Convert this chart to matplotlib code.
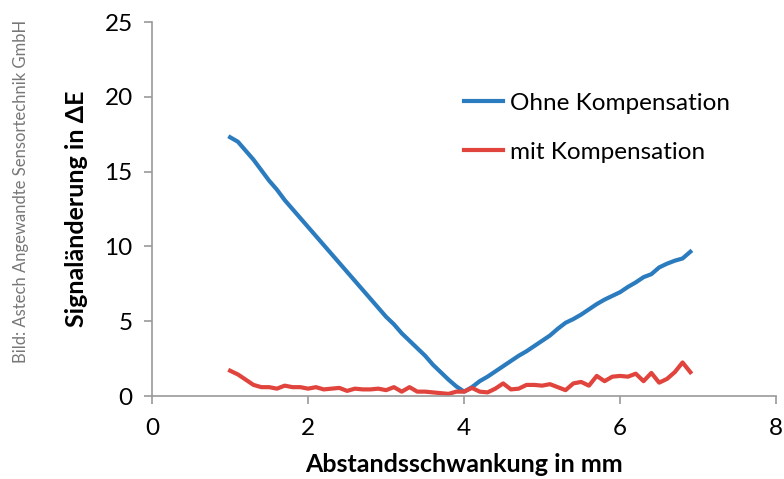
import numpy as np
import matplotlib
matplotlib.use("Agg")
import matplotlib.pyplot as plt

plt.rcParams['font.family'] = ['Lato', 'DejaVu Sans']

# Abstandsschwankung in mm (0.1 mm steps)
distance = np.round(np.arange(1.0, 6.95, 0.1), 1)

ohne_kompensation = [
    17.3, 17.0, 16.4, 15.8, 15.1, 14.4, 13.8, 13.1, 12.5, 11.9,
    11.3, 10.7, 10.1, 9.5, 8.9, 8.3, 7.7, 7.1, 6.5, 5.9,
    5.3, 4.8, 4.2, 3.7, 3.2, 2.7, 2.1, 1.6, 1.1, 0.65,
    0.3, 0.6, 1.0, 1.3, 1.65, 2.0, 2.35, 2.7, 3.0, 3.35,
    3.7, 4.05, 4.5, 4.9, 5.15, 5.45, 5.8, 6.15, 6.45, 6.7,
    6.95, 7.3, 7.6, 7.95, 8.15, 8.6, 8.85, 9.05, 9.2, 9.65,
]
mit_kompensation = [
    1.7, 1.45, 1.1, 0.75, 0.6, 0.6, 0.5, 0.7, 0.6, 0.6,
    0.5, 0.6, 0.45, 0.5, 0.55, 0.35, 0.5, 0.45, 0.45, 0.5,
    0.4, 0.6, 0.3, 0.6, 0.3, 0.3, 0.25, 0.2, 0.15, 0.3,
    0.3, 0.55, 0.3, 0.25, 0.5, 0.85, 0.45, 0.5, 0.75, 0.75,
    0.7, 0.8, 0.6, 0.4, 0.85, 0.95, 0.7, 1.35, 1.0, 1.3,
    1.35, 1.3, 1.5, 1.0, 1.55, 0.9, 1.15, 1.6, 2.25, 1.6,
]

fig = plt.figure(figsize=(7.84, 4.79), dpi=100)
ax = fig.add_axes([0.194, 0.173, 0.796, 0.781])

ax.plot(distance, ohne_kompensation, color='#2b7bbf', lw=3, label='Ohne Kompensation')
ax.plot(distance, mit_kompensation, color='#e0443c', lw=3, label='mit Kompensation')

ax.set_xlim(0, 8)
ax.set_ylim(0, 25)
ax.set_xticks([0, 2, 4, 6, 8])
ax.set_yticks([0, 5, 10, 15, 20, 25])
ax.tick_params(labelsize=17.5, color='#999999', length=6, width=1.2, pad=8)
ax.tick_params(axis='x', pad=10)
for side in ['top', 'right']:
    ax.spines[side].set_visible(False)
for side in ['left', 'bottom']:
    ax.spines[side].set_color('#999999')
    ax.spines[side].set_linewidth(1.2)

ax.set_xlabel('Abstandsschwankung in mm', fontsize=18, fontweight='bold', labelpad=10)
ax.set_ylabel('Signaländerung in ΔE', fontsize=18, fontweight='bold', labelpad=12)

ax.legend(loc='upper left', bbox_to_anchor=(0.465, 0.87), frameon=False,
          fontsize=17.5, handlelength=1.6, handletextpad=0.3, labelspacing=1.15)

fig.text(0.027, 0.6, 'Bild: Astech Angewandte Sensortechnik GmbH', rotation=90,
         color='#777777', fontsize=12, ha='center', va='center')

fig.savefig('out.png', dpi=100)
